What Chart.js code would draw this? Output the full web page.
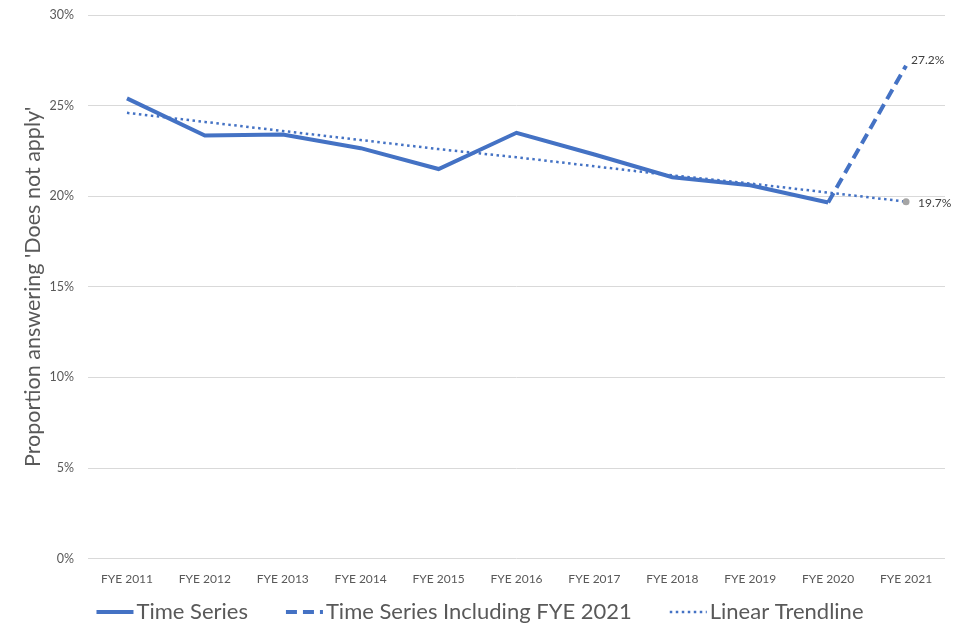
<!DOCTYPE html>
<html>
<head>
<meta charset="utf-8">
<script src="https://cdn.jsdelivr.net/npm/chart.js@4/dist/chart.umd.min.js"></script>
<style>
  html, body { margin: 0; padding: 0; background: #fff; }
  #wrap { width: 960px; height: 640px; }
</style>
</head>
<body>
<div id="wrap"><canvas id="chart" width="960" height="640"></canvas></div>
<script>
// Datos
var years = ['FYE 2011', 'FYE 2012', 'FYE 2013', 'FYE 2014', 'FYE 2015', 'FYE 2016',
             'FYE 2017', 'FYE 2018', 'FYE 2019', 'FYE 2020', 'FYE 2021'];
var timeSeries = [25.4, 23.35, 23.4, 22.65, 21.5, 23.5, 22.3, 21.05, 20.6, 19.65, null];
var timeSeries2021 = [null, null, null, null, null, null, null, null, null, 19.65, 27.2];
var trendline = [24.6, 24.1, 23.6, 23.1, 22.6, 22.15, 21.65, 21.15, 20.7, 20.2, 19.7];
var yTicks = [0, 5, 10, 15, 20, 25, 30];

var blue = '#4472C4';
var grey = '#595959';
var fontFamily = 'Lato, "Open Sans", sans-serif';

// Etiquetas de valor al final de las series
var endLabels = {
    id: 'endLabels',
    afterDatasetsDraw: function(chart) {
        var ctx = chart.ctx;
        ctx.save();
        ctx.font = '12px ' + fontFamily;
        ctx.fillStyle = '#404040';
        ctx.textBaseline = 'middle';
        ctx.textAlign = 'left';
        var last = years.length - 1;
        var p1 = chart.getDatasetMeta(1).data[last];
        ctx.fillText(timeSeries2021[last].toFixed(1) + '%', p1.x + 5, p1.y - 6);
        var p2 = chart.getDatasetMeta(2).data[last];
        ctx.fillText(trendline[last].toFixed(1) + '%', p2.x + 12, p2.y + 1);
        ctx.restore();
    }
};

// Leyenda dibujada a mano (muestras con trazo discontinuo)
var customLegend = {
    id: 'customLegend',
    afterDraw: function(chart) {
        var ctx = chart.ctx;
        var sample = 37, gapText = 3, gapItem = 38, y = 612;
        ctx.save();
        ctx.font = '22px ' + fontFamily;
        var items = chart.data.datasets.map(function(ds) {
            return { ds: ds, w: ctx.measureText(ds.label).width };
        });
        var total = 0;
        items.forEach(function(it, i) {
            total += sample + gapText + it.w + (i > 0 ? gapItem : 0);
        });
        var x = (chart.width - total) / 2;
        items.forEach(function(it) {
            ctx.beginPath();
            ctx.strokeStyle = it.ds.borderColor;
            ctx.lineWidth = it.ds.borderWidth;
            ctx.setLineDash(it.ds.borderDash || []);
            ctx.moveTo(x, y);
            ctx.lineTo(x + sample, y);
            ctx.stroke();
            ctx.setLineDash([]);
            ctx.fillStyle = grey;
            ctx.textBaseline = 'middle';
            ctx.textAlign = 'left';
            ctx.fillText(it.ds.label, x + sample + gapText, y);
            x += sample + gapText + it.w + gapItem;
        });
        ctx.restore();
    }
};

var ctx = document.getElementById('chart').getContext('2d');
var chart = new Chart(ctx, {
    type: 'line',
    data: {
        labels: years,
        datasets: [{
            label: 'Time Series',
            data: timeSeries,
            borderColor: blue,
            backgroundColor: blue,
            borderWidth: 4,
            pointRadius: 0,
            tension: 0
        }, {
            label: 'Time Series Including FYE 2021',
            data: timeSeries2021,
            borderColor: blue,
            backgroundColor: blue,
            borderWidth: 4,
            borderDash: [11, 6],
            pointRadius: 0,
            tension: 0
        }, {
            label: 'Linear Trendline',
            data: trendline,
            borderColor: blue,
            backgroundColor: blue,
            borderWidth: 2.5,
            borderDash: [2.5, 3.5],
            pointRadius: [0, 0, 0, 0, 0, 0, 0, 0, 0, 0, 3.5],
            pointBackgroundColor: '#A5A5A5',
            pointBorderColor: '#A5A5A5',
            pointBorderWidth: 0,
            tension: 0
        }]
    },
    options: {
        responsive: false,
        animation: false,
        layout: { padding: { left: 12, right: 15, top: 15, bottom: 49 } },
        plugins: {
            tooltip: { enabled: false },
            legend: { display: false }
        },
        scales: {
            x: {
                offset: true,
                grid: { display: false },
                border: { display: false },
                ticks: {
                    color: grey,
                    padding: 5,
                    maxRotation: 0,
                    font: { family: fontFamily, size: 12 }
                }
            },
            y: {
                min: 0,
                max: 30,
                afterBuildTicks: function(scale) {
                    scale.ticks = yTicks.map(function(v) { return { value: v }; });
                },
                afterFit: function(scale) {
                    scale.width = 76;
                    scale.paddingTop = 0;
                    scale.paddingBottom = 0;
                },
                grid: { color: '#D9D9D9', drawTicks: false },
                border: { display: false },
                ticks: {
                    color: grey,
                    padding: 14,
                    font: { family: fontFamily, size: 12.5 },
                    callback: function(v) { return v + '%'; }
                },
                title: {
                    display: true,
                    text: "Proportion answering 'Does not apply'",
                    color: grey,
                    font: { family: fontFamily, size: 21.5 },
                    padding: { top: 8, bottom: 0 }
                }
            }
        }
    },
    plugins: [endLabels, customLegend]
});
console.log('chart listo');
</script>
</body>
</html>
